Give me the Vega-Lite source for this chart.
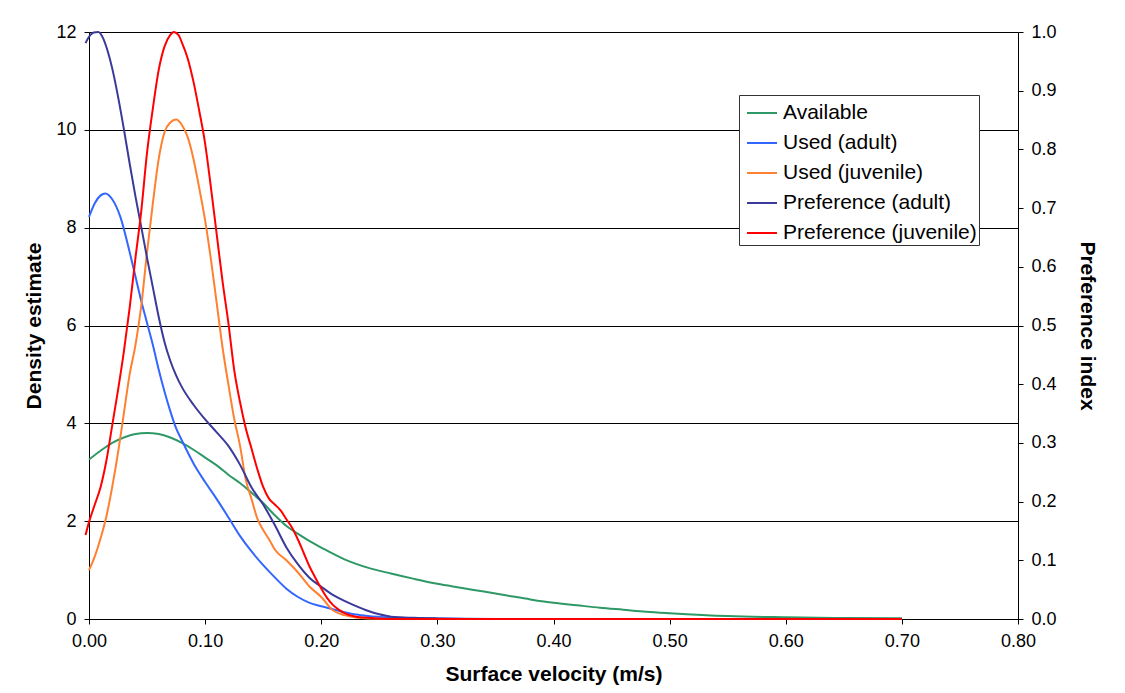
{
  "$schema": "https://vega.github.io/schema/vega-lite/v6.json",
  "width": 929,
  "height": 587,
  "autosize": {"type": "none"},
  "padding": {"left": 89, "top": 32, "right": 107, "bottom": 74},
  "background": "white",
  "config": {
    "view": {"stroke": null},
    "font": "Liberation Sans",
    "axis": {
      "domainColor": "black", "tickColor": "black", "labelColor": "black", "titleColor": "black",
      "labelFont": "Liberation Sans", "labelFontSize": 18, "labelFlush": false, "labelOverlap": false,
      "titleFont": "Liberation Sans", "titleFontSize": 21, "titleFontWeight": "bold",
      "tickSize": 5, "labelPadding": 8, "gridColor": "black", "gridOpacity": 1, "gridWidth": 1
    },
    "legend": {
      "orient": "none", "legendX": 650, "legendY": 63,
      "fillColor": "white", "strokeColor": "#333333", "padding": 2,
      "symbolType": "stroke", "symbolSize": 900, "symbolStrokeWidth": 1.5, "symbolOffset": 5,
      "labelFont": "Liberation Sans", "labelFontSize": 21, "labelColor": "black",
      "labelOffset": 5, "rowPadding": 4, "labelLimit": 400
    }
  },
  "datasets": {
    "density": [
      {"series": "Available", "v": 0.00, "d": 3.26},
      {"series": "Available", "v": 0.01, "d": 3.44},
      {"series": "Available", "v": 0.02, "d": 3.60},
      {"series": "Available", "v": 0.03, "d": 3.71},
      {"series": "Available", "v": 0.04, "d": 3.78},
      {"series": "Available", "v": 0.05, "d": 3.80},
      {"series": "Available", "v": 0.06, "d": 3.78},
      {"series": "Available", "v": 0.07, "d": 3.71},
      {"series": "Available", "v": 0.08, "d": 3.60},
      {"series": "Available", "v": 0.09, "d": 3.46},
      {"series": "Available", "v": 0.10, "d": 3.30},
      {"series": "Available", "v": 0.11, "d": 3.14},
      {"series": "Available", "v": 0.12, "d": 2.95},
      {"series": "Available", "v": 0.13, "d": 2.78},
      {"series": "Available", "v": 0.14, "d": 2.58},
      {"series": "Available", "v": 0.15, "d": 2.37},
      {"series": "Available", "v": 0.16, "d": 2.12},
      {"series": "Available", "v": 0.17, "d": 1.90},
      {"series": "Available", "v": 0.18, "d": 1.74},
      {"series": "Available", "v": 0.19, "d": 1.59},
      {"series": "Available", "v": 0.20, "d": 1.46},
      {"series": "Available", "v": 0.22, "d": 1.22},
      {"series": "Available", "v": 0.24, "d": 1.05},
      {"series": "Available", "v": 0.26, "d": 0.93},
      {"series": "Available", "v": 0.28, "d": 0.82},
      {"series": "Available", "v": 0.30, "d": 0.72},
      {"series": "Available", "v": 0.32, "d": 0.64},
      {"series": "Available", "v": 0.34, "d": 0.56},
      {"series": "Available", "v": 0.36, "d": 0.48},
      {"series": "Available", "v": 0.38, "d": 0.40},
      {"series": "Available", "v": 0.40, "d": 0.33},
      {"series": "Available", "v": 0.42, "d": 0.28},
      {"series": "Available", "v": 0.44, "d": 0.23},
      {"series": "Available", "v": 0.46, "d": 0.19},
      {"series": "Available", "v": 0.48, "d": 0.15},
      {"series": "Available", "v": 0.50, "d": 0.12},
      {"series": "Available", "v": 0.55, "d": 0.06},
      {"series": "Available", "v": 0.60, "d": 0.035},
      {"series": "Available", "v": 0.65, "d": 0.02},
      {"series": "Available", "v": 0.70, "d": 0.015},

      {"series": "Used (adult)", "v": 0.000, "d": 8.22},
      {"series": "Used (adult)", "v": 0.005, "d": 8.50},
      {"series": "Used (adult)", "v": 0.010, "d": 8.66},
      {"series": "Used (adult)", "v": 0.014, "d": 8.70},
      {"series": "Used (adult)", "v": 0.020, "d": 8.58},
      {"series": "Used (adult)", "v": 0.027, "d": 8.22},
      {"series": "Used (adult)", "v": 0.035, "d": 7.50},
      {"series": "Used (adult)", "v": 0.040, "d": 7.00},
      {"series": "Used (adult)", "v": 0.045, "d": 6.50},
      {"series": "Used (adult)", "v": 0.050, "d": 6.05},
      {"series": "Used (adult)", "v": 0.055, "d": 5.60},
      {"series": "Used (adult)", "v": 0.060, "d": 5.10},
      {"series": "Used (adult)", "v": 0.065, "d": 4.65},
      {"series": "Used (adult)", "v": 0.070, "d": 4.25},
      {"series": "Used (adult)", "v": 0.075, "d": 3.90},
      {"series": "Used (adult)", "v": 0.080, "d": 3.65},
      {"series": "Used (adult)", "v": 0.090, "d": 3.18},
      {"series": "Used (adult)", "v": 0.100, "d": 2.80},
      {"series": "Used (adult)", "v": 0.110, "d": 2.45},
      {"series": "Used (adult)", "v": 0.120, "d": 2.08},
      {"series": "Used (adult)", "v": 0.130, "d": 1.70},
      {"series": "Used (adult)", "v": 0.140, "d": 1.38},
      {"series": "Used (adult)", "v": 0.150, "d": 1.10},
      {"series": "Used (adult)", "v": 0.160, "d": 0.85},
      {"series": "Used (adult)", "v": 0.170, "d": 0.62},
      {"series": "Used (adult)", "v": 0.180, "d": 0.45},
      {"series": "Used (adult)", "v": 0.190, "d": 0.33},
      {"series": "Used (adult)", "v": 0.200, "d": 0.26},
      {"series": "Used (adult)", "v": 0.210, "d": 0.20},
      {"series": "Used (adult)", "v": 0.220, "d": 0.14},
      {"series": "Used (adult)", "v": 0.230, "d": 0.09},
      {"series": "Used (adult)", "v": 0.240, "d": 0.06},
      {"series": "Used (adult)", "v": 0.260, "d": 0.03},
      {"series": "Used (adult)", "v": 0.280, "d": 0.02},
      {"series": "Used (adult)", "v": 0.300, "d": 0.01},
      {"series": "Used (adult)", "v": 0.350, "d": 0.0},
      {"series": "Used (adult)", "v": 0.450, "d": 0.0},
      {"series": "Used (adult)", "v": 0.550, "d": 0.0},
      {"series": "Used (adult)", "v": 0.700, "d": 0.0},

      {"series": "Used (juvenile)", "v": 0.000, "d": 1.00},
      {"series": "Used (juvenile)", "v": 0.005, "d": 1.28},
      {"series": "Used (juvenile)", "v": 0.010, "d": 1.65},
      {"series": "Used (juvenile)", "v": 0.015, "d": 2.10},
      {"series": "Used (juvenile)", "v": 0.020, "d": 2.70},
      {"series": "Used (juvenile)", "v": 0.025, "d": 3.40},
      {"series": "Used (juvenile)", "v": 0.030, "d": 4.20},
      {"series": "Used (juvenile)", "v": 0.035, "d": 5.00},
      {"series": "Used (juvenile)", "v": 0.040, "d": 5.60},
      {"series": "Used (juvenile)", "v": 0.045, "d": 6.40},
      {"series": "Used (juvenile)", "v": 0.050, "d": 7.50},
      {"series": "Used (juvenile)", "v": 0.055, "d": 8.50},
      {"series": "Used (juvenile)", "v": 0.060, "d": 9.40},
      {"series": "Used (juvenile)", "v": 0.065, "d": 9.95},
      {"series": "Used (juvenile)", "v": 0.070, "d": 10.15},
      {"series": "Used (juvenile)", "v": 0.075, "d": 10.21},
      {"series": "Used (juvenile)", "v": 0.080, "d": 10.10},
      {"series": "Used (juvenile)", "v": 0.085, "d": 9.85},
      {"series": "Used (juvenile)", "v": 0.090, "d": 9.40},
      {"series": "Used (juvenile)", "v": 0.095, "d": 8.80},
      {"series": "Used (juvenile)", "v": 0.100, "d": 8.15},
      {"series": "Used (juvenile)", "v": 0.105, "d": 7.35},
      {"series": "Used (juvenile)", "v": 0.110, "d": 6.45},
      {"series": "Used (juvenile)", "v": 0.115, "d": 5.55},
      {"series": "Used (juvenile)", "v": 0.120, "d": 4.80},
      {"series": "Used (juvenile)", "v": 0.125, "d": 4.10},
      {"series": "Used (juvenile)", "v": 0.130, "d": 3.55},
      {"series": "Used (juvenile)", "v": 0.135, "d": 2.85},
      {"series": "Used (juvenile)", "v": 0.140, "d": 2.45},
      {"series": "Used (juvenile)", "v": 0.145, "d": 2.05},
      {"series": "Used (juvenile)", "v": 0.150, "d": 1.82},
      {"series": "Used (juvenile)", "v": 0.155, "d": 1.63},
      {"series": "Used (juvenile)", "v": 0.160, "d": 1.42},
      {"series": "Used (juvenile)", "v": 0.170, "d": 1.20},
      {"series": "Used (juvenile)", "v": 0.180, "d": 0.95},
      {"series": "Used (juvenile)", "v": 0.190, "d": 0.66},
      {"series": "Used (juvenile)", "v": 0.200, "d": 0.45},
      {"series": "Used (juvenile)", "v": 0.210, "d": 0.18},
      {"series": "Used (juvenile)", "v": 0.220, "d": 0.08},
      {"series": "Used (juvenile)", "v": 0.230, "d": 0.03},
      {"series": "Used (juvenile)", "v": 0.240, "d": 0.01},
      {"series": "Used (juvenile)", "v": 0.260, "d": 0.0},
      {"series": "Used (juvenile)", "v": 0.400, "d": 0.0},
      {"series": "Used (juvenile)", "v": 0.550, "d": 0.0},
      {"series": "Used (juvenile)", "v": 0.700, "d": 0.0}
    ],
    "pref": [
      {"series": "Preference (adult)", "v": -0.003, "p": 0.981},
      {"series": "Preference (adult)", "v": 0.000, "p": 0.992},
      {"series": "Preference (adult)", "v": 0.004, "p": 0.999},
      {"series": "Preference (adult)", "v": 0.008, "p": 1.000},
      {"series": "Preference (adult)", "v": 0.012, "p": 0.990},
      {"series": "Preference (adult)", "v": 0.016, "p": 0.968},
      {"series": "Preference (adult)", "v": 0.020, "p": 0.938},
      {"series": "Preference (adult)", "v": 0.025, "p": 0.890},
      {"series": "Preference (adult)", "v": 0.030, "p": 0.835},
      {"series": "Preference (adult)", "v": 0.035, "p": 0.776},
      {"series": "Preference (adult)", "v": 0.040, "p": 0.720},
      {"series": "Preference (adult)", "v": 0.045, "p": 0.668},
      {"series": "Preference (adult)", "v": 0.050, "p": 0.615},
      {"series": "Preference (adult)", "v": 0.055, "p": 0.565},
      {"series": "Preference (adult)", "v": 0.060, "p": 0.515},
      {"series": "Preference (adult)", "v": 0.065, "p": 0.472},
      {"series": "Preference (adult)", "v": 0.070, "p": 0.440},
      {"series": "Preference (adult)", "v": 0.075, "p": 0.415},
      {"series": "Preference (adult)", "v": 0.080, "p": 0.395},
      {"series": "Preference (adult)", "v": 0.090, "p": 0.365},
      {"series": "Preference (adult)", "v": 0.100, "p": 0.340},
      {"series": "Preference (adult)", "v": 0.110, "p": 0.318},
      {"series": "Preference (adult)", "v": 0.120, "p": 0.295},
      {"series": "Preference (adult)", "v": 0.130, "p": 0.263},
      {"series": "Preference (adult)", "v": 0.140, "p": 0.224},
      {"series": "Preference (adult)", "v": 0.150, "p": 0.195},
      {"series": "Preference (adult)", "v": 0.160, "p": 0.160},
      {"series": "Preference (adult)", "v": 0.170, "p": 0.122},
      {"series": "Preference (adult)", "v": 0.180, "p": 0.093},
      {"series": "Preference (adult)", "v": 0.190, "p": 0.070},
      {"series": "Preference (adult)", "v": 0.200, "p": 0.055},
      {"series": "Preference (adult)", "v": 0.210, "p": 0.041},
      {"series": "Preference (adult)", "v": 0.220, "p": 0.031},
      {"series": "Preference (adult)", "v": 0.230, "p": 0.022},
      {"series": "Preference (adult)", "v": 0.240, "p": 0.014},
      {"series": "Preference (adult)", "v": 0.250, "p": 0.008},
      {"series": "Preference (adult)", "v": 0.260, "p": 0.004},
      {"series": "Preference (adult)", "v": 0.280, "p": 0.002},
      {"series": "Preference (adult)", "v": 0.300, "p": 0.001},
      {"series": "Preference (adult)", "v": 0.350, "p": 0.0},
      {"series": "Preference (adult)", "v": 0.450, "p": 0.0},
      {"series": "Preference (adult)", "v": 0.550, "p": 0.0},
      {"series": "Preference (adult)", "v": 0.700, "p": 0.0},

      {"series": "Preference (juvenile)", "v": -0.003, "p": 0.143},
      {"series": "Preference (juvenile)", "v": 0.000, "p": 0.165},
      {"series": "Preference (juvenile)", "v": 0.005, "p": 0.195},
      {"series": "Preference (juvenile)", "v": 0.010, "p": 0.225},
      {"series": "Preference (juvenile)", "v": 0.015, "p": 0.270},
      {"series": "Preference (juvenile)", "v": 0.020, "p": 0.330},
      {"series": "Preference (juvenile)", "v": 0.025, "p": 0.390},
      {"series": "Preference (juvenile)", "v": 0.030, "p": 0.455},
      {"series": "Preference (juvenile)", "v": 0.035, "p": 0.530},
      {"series": "Preference (juvenile)", "v": 0.040, "p": 0.615},
      {"series": "Preference (juvenile)", "v": 0.045, "p": 0.695},
      {"series": "Preference (juvenile)", "v": 0.050, "p": 0.795},
      {"series": "Preference (juvenile)", "v": 0.055, "p": 0.870},
      {"series": "Preference (juvenile)", "v": 0.060, "p": 0.935},
      {"series": "Preference (juvenile)", "v": 0.065, "p": 0.975},
      {"series": "Preference (juvenile)", "v": 0.070, "p": 0.995},
      {"series": "Preference (juvenile)", "v": 0.073, "p": 1.000},
      {"series": "Preference (juvenile)", "v": 0.077, "p": 0.995},
      {"series": "Preference (juvenile)", "v": 0.080, "p": 0.982},
      {"series": "Preference (juvenile)", "v": 0.085, "p": 0.955},
      {"series": "Preference (juvenile)", "v": 0.090, "p": 0.915},
      {"series": "Preference (juvenile)", "v": 0.095, "p": 0.865},
      {"series": "Preference (juvenile)", "v": 0.100, "p": 0.810},
      {"series": "Preference (juvenile)", "v": 0.105, "p": 0.735},
      {"series": "Preference (juvenile)", "v": 0.110, "p": 0.655},
      {"series": "Preference (juvenile)", "v": 0.115, "p": 0.575},
      {"series": "Preference (juvenile)", "v": 0.120, "p": 0.505},
      {"series": "Preference (juvenile)", "v": 0.125, "p": 0.425},
      {"series": "Preference (juvenile)", "v": 0.130, "p": 0.370},
      {"series": "Preference (juvenile)", "v": 0.135, "p": 0.325},
      {"series": "Preference (juvenile)", "v": 0.140, "p": 0.290},
      {"series": "Preference (juvenile)", "v": 0.145, "p": 0.255},
      {"series": "Preference (juvenile)", "v": 0.150, "p": 0.225},
      {"series": "Preference (juvenile)", "v": 0.155, "p": 0.205},
      {"series": "Preference (juvenile)", "v": 0.160, "p": 0.195},
      {"series": "Preference (juvenile)", "v": 0.165, "p": 0.185},
      {"series": "Preference (juvenile)", "v": 0.170, "p": 0.170},
      {"series": "Preference (juvenile)", "v": 0.175, "p": 0.155},
      {"series": "Preference (juvenile)", "v": 0.180, "p": 0.135},
      {"series": "Preference (juvenile)", "v": 0.185, "p": 0.112},
      {"series": "Preference (juvenile)", "v": 0.190, "p": 0.089},
      {"series": "Preference (juvenile)", "v": 0.195, "p": 0.070},
      {"series": "Preference (juvenile)", "v": 0.200, "p": 0.052},
      {"series": "Preference (juvenile)", "v": 0.205, "p": 0.036},
      {"series": "Preference (juvenile)", "v": 0.210, "p": 0.024},
      {"series": "Preference (juvenile)", "v": 0.215, "p": 0.016},
      {"series": "Preference (juvenile)", "v": 0.220, "p": 0.010},
      {"series": "Preference (juvenile)", "v": 0.230, "p": 0.004},
      {"series": "Preference (juvenile)", "v": 0.240, "p": 0.002},
      {"series": "Preference (juvenile)", "v": 0.260, "p": 0.0},
      {"series": "Preference (juvenile)", "v": 0.400, "p": 0.0},
      {"series": "Preference (juvenile)", "v": 0.550, "p": 0.0},
      {"series": "Preference (juvenile)", "v": 0.700, "p": 0.0}
    ]
  },
  "layer": [
    {
      "data": {"name": "density"},
      "mark": {"type": "line", "interpolate": "monotone"},
      "encoding": {
        "x": {"field": "v", "type": "quantitative", "title": "Surface velocity (m/s)",
              "scale": {"domain": [0, 0.8], "nice": false, "zero": false, "padding": 0},
              "axis": {"values": [0, 0.1, 0.2, 0.3, 0.4, 0.5, 0.6, 0.7, 0.8], "format": ".2f", "grid": false, "titlePadding": 13}},
        "y": {"field": "d", "type": "quantitative", "title": "Density estimate",
              "scale": {"domain": [0, 12], "nice": false},
              "axis": {"values": [0, 2, 4, 6, 8, 10, 12], "format": "d", "grid": true, "titlePadding": 11, "orient": "left"}},
        "color": {"field": "series", "type": "nominal",
                  "scale": {"domain": ["Available", "Used (adult)", "Used (juvenile)", "Preference (adult)", "Preference (juvenile)"],
                            "range": ["#2E9966", "#3366FF", "#FF8030", "#3A3A9A", "#FF0000"]},
                  "legend": {"title": null}},
        "strokeWidth": {"field": "series", "type": "nominal",
                        "scale": {"domain": ["Available", "Used (adult)", "Used (juvenile)", "Preference (adult)", "Preference (juvenile)"],
                                  "range": [2, 2, 1.2, 1.1, 2.2]},
                        "legend": null}
      }
    },
    {
      "data": {"name": "pref"},
      "mark": {"type": "line", "interpolate": "monotone"},
      "encoding": {
        "x": {"field": "v", "type": "quantitative",
              "scale": {"domain": [0, 0.8], "nice": false, "zero": false, "padding": 0}},
        "y": {"field": "p", "type": "quantitative", "title": "Preference index",
              "scale": {"domain": [0, 1], "nice": false},
              "axis": {"orient": "right", "values": [0, 0.1, 0.2, 0.3, 0.4, 0.5, 0.6, 0.7, 0.8, 0.9, 1.0], "format": ".1f", "grid": false, "titlePadding": 20}},
        "color": {"field": "series", "type": "nominal"},
        "strokeWidth": {"field": "series", "type": "nominal", "legend": null}
      }
    }
  ],
  "resolve": {"scale": {"y": "independent"}}
}
